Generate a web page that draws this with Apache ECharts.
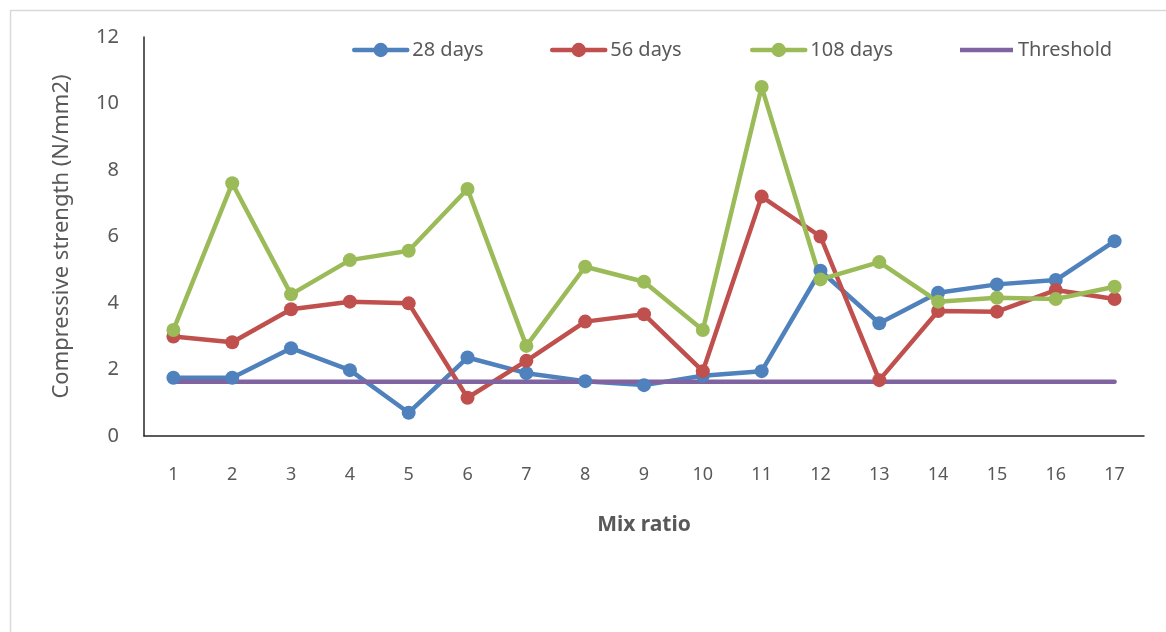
<!DOCTYPE html>
<html>
<head>
<meta charset="utf-8">
<script src="https://cdn.jsdelivr.net/npm/echarts@6/dist/echarts.min.js"></script>
<style>
html,body{margin:0;padding:0;background:#fff;}
#c{width:1166px;height:632px;}
</style>
</head>
<body>
<div id="c"></div>
<script>
const categories = ['1','2','3','4','5','6','7','8','9','10','11','12','13','14','15','16','17'];
const days28 = [1.75, 1.75, 2.64, 1.98, 0.70, 2.36, 1.89, 1.65, 1.53, 1.81, 1.95, 4.97, 3.39, 4.31, 4.56, 4.69, 5.86];
const days56 = [2.99, 2.82, 3.81, 4.04, 3.99, 1.15, 2.26, 3.44, 3.66, 1.95, 7.20, 6.00, 1.68, 3.76, 3.74, 4.39, 4.12];
const days108 = [3.19, 7.60, 4.26, 5.29, 5.57, 7.43, 2.71, 5.09, 4.64, 3.19, 10.50, 4.71, 5.23, 4.04, 4.16, 4.12, 4.49];
const threshold = [1.63, 1.63, 1.63, 1.63, 1.63, 1.63, 1.63, 1.63, 1.63, 1.63, 1.63, 1.63, 1.63, 1.63, 1.63, 1.63, 1.63];
const seriesNames = ['28 days', '56 days', '108 days', 'Threshold'];
const yTicks = { min: 0, max: 12, interval: 2 };

const FONT = 'Noto Sans';
const TXT = '#595959';
const colors = ['#4F81BD', '#C0504D', '#9BBB59', '#8064A2'];
const legendLefts = [352, 550, 750, 960];

function mkLine(name, data, color, withSymbol) {
  return {
    name: name, type: 'line', data: data,
    symbol: withSymbol ? 'circle' : 'none',
    symbolSize: 14,
    showSymbol: withSymbol,
    lineStyle: { width: 4.5, color: color, cap: 'round', join: 'round' },
    itemStyle: { color: color },
    emphasis: { disabled: true },
    animation: false
  };
}

const legends = seriesNames.map((n, i) => {
  const item = { name: n };
  if (i === 3) {
    item.icon = 'path://M0,0L53,0L53,4.5L0,4.5Z';
    item.itemStyle = { color: colors[3] };
  }
  return {
    data: [item], left: legendLefts[i], top: 40, padding: 0,
    itemWidth: 53, itemHeight: 18,
    lineStyle: { width: 4.5 },
    textStyle: { fontFamily: FONT, fontSize: 20, color: TXT },
    selectedMode: false
  };
});

const chart = echarts.init(document.getElementById('c'), null, { renderer: 'canvas' });
chart.setOption({
  backgroundColor: '#ffffff',
  animation: false,
  graphic: [{
    type: 'rect', left: 8, top: 8,
    shape: { x: 0, y: 0, width: 1200, height: 700 },
    style: { fill: 'none', stroke: '#d9d9d9', lineWidth: 1.5 },
    silent: true
  }],
  legend: legends,
  grid: { left: 144, right: 22, top: 37, bottom: 196, containLabel: false },
  xAxis: {
    type: 'category', data: categories, boundaryGap: true,
    name: 'Mix ratio', nameLocation: 'middle', nameGap: 79,
    nameTextStyle: { fontFamily: FONT, fontSize: 21, fontWeight: 'bold', color: TXT },
    axisLine: { lineStyle: { color: '#262626', width: 1.5 } },
    axisTick: { show: false },
    axisLabel: { fontFamily: FONT, fontSize: 18, color: TXT, margin: 30 },
    splitLine: { show: false }
  },
  yAxis: {
    type: 'value', min: yTicks.min, max: yTicks.max, interval: yTicks.interval,
    name: 'Compressive strength (N/mm2)', nameLocation: 'middle', nameGap: 71,
    nameTextStyle: { fontFamily: FONT, fontSize: 22, color: TXT },
    axisLine: { show: true, lineStyle: { color: '#262626', width: 1.5 } },
    axisTick: { show: false },
    axisLabel: { fontFamily: FONT, fontSize: 20, color: TXT, margin: 25 },
    splitLine: { show: false }
  },
  series: [
    mkLine(seriesNames[0], days28, colors[0], true),
    mkLine(seriesNames[1], days56, colors[1], true),
    mkLine(seriesNames[2], days108, colors[2], true),
    mkLine(seriesNames[3], threshold, colors[3], false)
  ]
});
</script>
</body>
</html>
